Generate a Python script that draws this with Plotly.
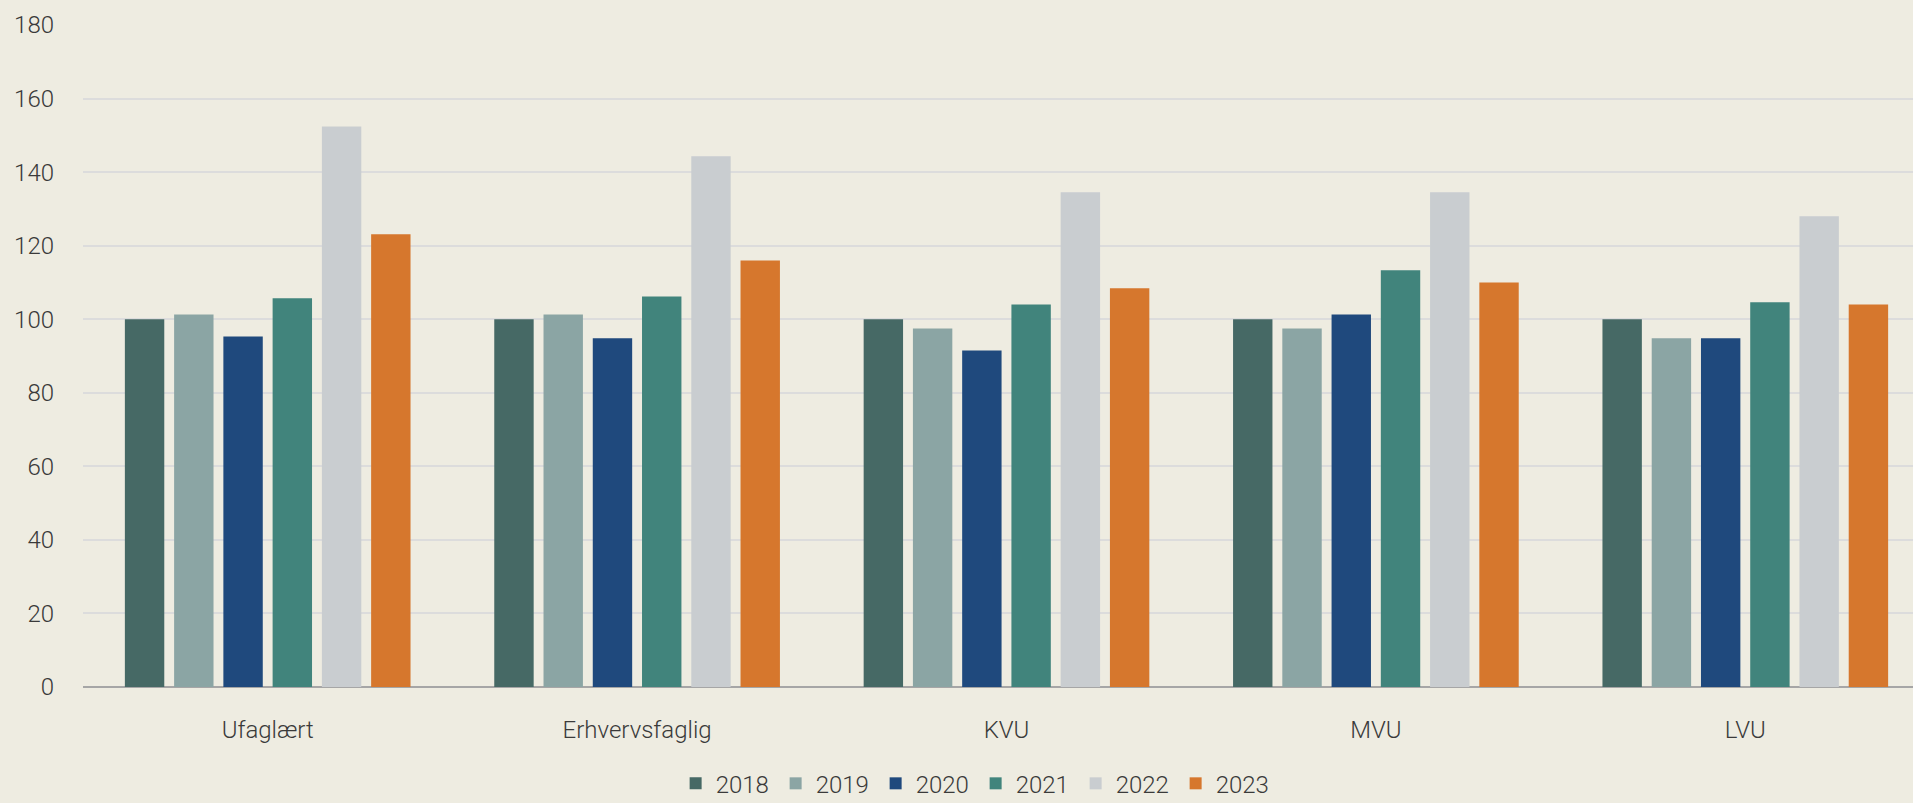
import plotly.graph_objects as go

categories = ["Ufaglært", "Erhvervsfaglig", "KVU", "MVU", "LVU"]
years = ["2018", "2019", "2020", "2021", "2022", "2023"]
v2018 = [100.0, 100.0, 100.0, 100.0, 100.0]
v2019 = [101.3, 101.3, 97.5, 97.5, 94.8]
v2020 = [95.3, 94.8, 91.5, 101.3, 94.8]
v2021 = [105.7, 106.2, 104.0, 113.3, 104.6]
v2022 = [152.4, 144.3, 134.5, 134.5, 128.0]
v2023 = [123.1, 116.0, 108.4, 110.0, 104.0]
series = [v2018, v2019, v2020, v2021, v2022, v2023]
colors = ["#466965", "#8ba5a4", "#1f497d", "#41847c", "#c9cdd0", "#d6772d"]
y_ticks = [0, 20, 40, 60, 80, 100, 120, 140, 160, 180]

FONT = "Roboto"
TXT = "#3a3a3a"

fig = go.Figure()
for yr, vals, col in zip(years, series, colors):
    fig.add_trace(go.Bar(name=yr, x=categories, y=vals, marker=dict(color=col, line=dict(width=0))))

fig.update_layout(
    width=1913, height=803,
    barmode="group", bargap=0.2, bargroupgap=0.2,
    paper_bgcolor="#eeece1", plot_bgcolor="#eeece1",
    margin=dict(l=83, r=0, t=25, b=116, pad=0),
    font=dict(family=FONT, size=24, color=TXT, weight=300),
    showlegend=True,
    legend=dict(orientation="h", xref="container", yref="container",
                x=0.51, xanchor="center", y=0.024, yanchor="middle",
                font=dict(family=FONT, size=24, color=TXT, weight=300),
                itemsizing="constant", entrywidth=55, bgcolor="rgba(0,0,0,0)",
                traceorder="normal"),
)
fig.update_xaxes(type="category", range=[-0.5, 4.454], showgrid=False, showline=False,
                 ticks="", ticklabelstandoff=26, zeroline=False,
                 tickfont=dict(family=FONT, size=24, color=TXT, weight=300))
fig.update_yaxes(range=[0, 180], tickvals=y_ticks, showgrid=True, gridcolor="#dcdcdc", gridwidth=1.5,
                 zeroline=True, zerolinecolor="#a6a6a6", zerolinewidth=2, showline=False,
                 ticks="", ticklabelstandoff=28,
                 tickfont=dict(family=FONT, size=24, color=TXT, weight=300))

fig.write_html("out.html", config={"displayModeBar": False},
               post_script="document.body.style.margin='0';document.body.style.overflow='hidden';")
